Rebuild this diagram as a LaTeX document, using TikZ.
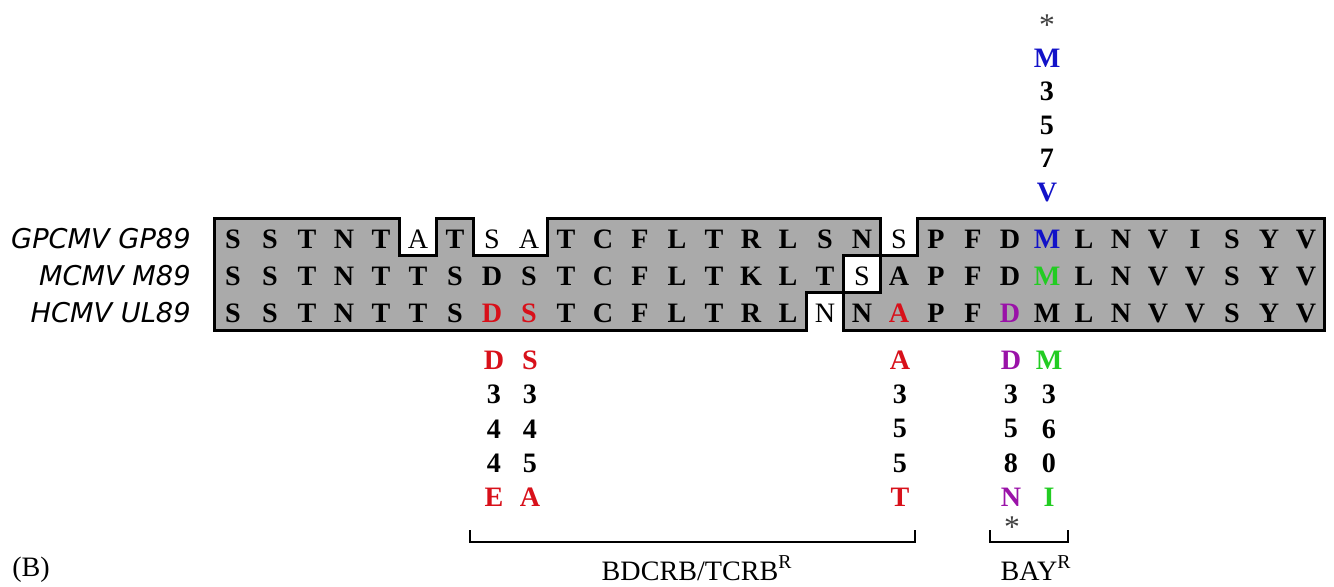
\documentclass[tikz,border=0pt]{standalone}
\usepackage{fontspec}
\setmainfont{Liberation Serif}
\setsansfont{DejaVu Sans}
\usepackage{tikz}
\usetikzlibrary{positioning}
\definecolor{mutred}{HTML}{D8101A}
\definecolor{mutblue}{HTML}{1212C8}
\definecolor{mutgreen}{HTML}{22CC22}
\definecolor{mutpurple}{HTML}{9A12A8}
\definecolor{boxgrey}{HTML}{AAAAAA}
\definecolor{starink}{HTML}{404040}
\tikzset{
  res/.style={anchor=base,inner sep=0pt,font=\fontsize{16}{16}\selectfont\bfseries},
  stackres/.style={anchor=center,inner sep=0pt,font=\fontsize{16}{16}\selectfont\bfseries},
  seqname/.style={anchor=base east,inner sep=0pt,font=\fontsize{15.5}{15.5}\selectfont\sffamily\itshape},
  caption/.style={anchor=base,inner sep=0pt,font=\fontsize{16}{16}\selectfont},
  star/.style={anchor=north,inner sep=0pt,text=starink,font=\fontsize{18}{18}\selectfont},
  outline/.style={line width=1.7pt,line join=miter},
  bracket/.style={line width=1.2pt}
}
% one vertical column of a mutation: name, x, list of entries
\newcommand{\mutstack}[3]{%
  \foreach \ee [count=\k] in {#3}
    \node[stackres] (#1\k) at (#2,{326+34.3*\k}) {\ee};}

\begin{document}
\begin{tikzpicture}[x=0.02cm,y=-0.02cm]
  \useasboundingbox (0,0) rectangle (1334,586);

  % shaded block with the unshaded residues cut out
  \path[draw=black,fill=boxgrey,outline,even odd rule]
    (214.5,218) -- (399.5,218) -- (399.5,255) -- (436.5,255) -- (436.5,218)
    -- (473.5,218) -- (473.5,255) -- (547.5,255) -- (547.5,218)
    -- (880.5,218) -- (880.5,255) -- (917.5,255) -- (917.5,218)
    -- (1324.5,218) -- (1324.5,330) -- (843.5,330) -- (843.5,292)
    -- (806.5,292) -- (806.5,330) -- (214.5,330) -- cycle
    (843.5,255) rectangle (880.5,292);

  % sequence names
  \node[seqname] (gpcmv) at (191,248) {GPCMV GP89};
  \node[seqname] (mcmv)  at (191,285) {MCMV M89};
  \node[seqname] (hcmv)  at (191,322) {HCMV UL89};

  % aligned residues
  \foreach \aa [count=\c] in {S,S,T,N,T,{\mdseries A},T,{\mdseries S},{\mdseries A},T,C,F,L,T,R,L,S,N,{\mdseries S},P,F,D,{\color{mutblue}M},L,N,V,I,S,Y,V}
    \node[res] (g\c) at ({233+37*(\c-1)},248) {\aa};
  \foreach \aa [count=\c] in {S,S,T,N,T,T,S,D,S,T,C,F,L,T,K,L,T,{\mdseries S},A,P,F,D,{\color{mutgreen}M},L,N,V,V,S,Y,V}
    \node[res] (m\c) at ({233+37*(\c-1)},285) {\aa};
  \foreach \aa [count=\c] in {S,S,T,N,T,T,S,{\color{mutred}D},{\color{mutred}S},T,C,F,L,T,R,L,{\mdseries N},N,{\color{mutred}A},P,F,{\color{mutpurple}D},M,L,N,V,V,S,Y,V}
    \node[res] (h\c) at ({233+37*(\c-1)},322) {\aa};

  % GPCMV mutation above the block
  \node[star] (topstar) at (1047,14) {*};
  \foreach \ee/\yy [count=\k] in {{\color{mutblue}M}/58,3/91.5,5/125,7/158.5,{\color{mutblue}V}/192}
    \node[stackres] (top\k) at (1047,\yy) {\ee};

  % HCMV mutations below the block
  \mutstack{dfe}{494}{{\color{mutred}D},3,4,4,{\color{mutred}E}}
  \mutstack{sfa}{530}{{\color{mutred}S},3,4,5,{\color{mutred}A}}
  \mutstack{aft}{900}{{\color{mutred}A},3,5,5,{\color{mutred}T}}
  \mutstack{dfn}{1011}{{\color{mutpurple}D},3,5,8,{\color{mutpurple}N}}
  \mutstack{mfi}{1049}{{\color{mutgreen}M},3,6,0,{\color{mutgreen}I}}
  \node[star] (botstar) at (1012,516) {*};

  % resistance brackets
  \draw[bracket] (470,530) |- (915,542) -- (915,530);
  \node[caption] (bdcrb) at (697,580) {BDCRB/TCRB\textsuperscript{R}};
  \draw[bracket] (990,530) |- (1068,542) -- (1068,530);
  \node[caption] (bay) at (1036,580) {BAY\textsuperscript{R}};

  \node[caption,anchor=base west] (panel) at (12,576) {(B)};
\end{tikzpicture}
\end{document}
